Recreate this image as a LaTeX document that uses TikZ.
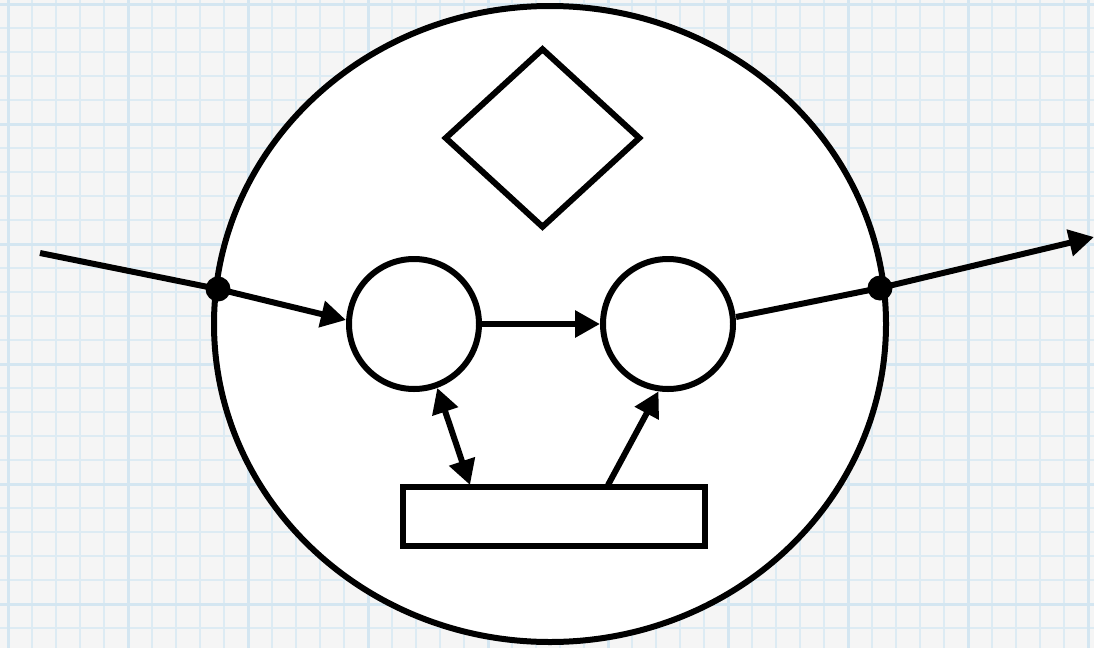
\documentclass[tikz,border=0pt]{standalone}
\usetikzlibrary{arrows.meta,shapes.geometric}
\definecolor{paper}{HTML}{F5F5F5}
\definecolor{gridminor}{HTML}{DDEBF3}
\definecolor{gridmajor}{HTML}{D4E6F1}
\begin{document}
\begin{tikzpicture}[x=1pt,y=-1pt,
  ln/.style={line width=6pt},
  tip/.style={-{Triangle[length=25pt,width=26pt]}},
  blob/.style={circle,fill=black,inner sep=0pt,minimum size=25pt},
  proc/.style={circle,draw,ln,fill=white,minimum size=130pt,inner sep=0pt},
]
\useasboundingbox (0,0) rectangle (1094,648);
\fill[paper] (0,0) rectangle (1094,648);
\foreach \i in {0,...,45} {
  \pgfmathsetmacro{\xx}{8+24*\i}
  \draw[gridminor,line width=1.5pt] (\xx,0) -- (\xx,648);
}
\foreach \i in {0,...,27} {
  \pgfmathsetmacro{\yy}{4+24*\i}
  \draw[gridminor,line width=1.5pt] (0,\yy) -- (1094,\yy);
}
\foreach \i in {0,...,9} {
  \pgfmathsetmacro{\xx}{8+120*\i}
  \draw[gridmajor,line width=3pt] (\xx,0) -- (\xx,648);
}
\foreach \i in {0,...,5} {
  \pgfmathsetmacro{\yy}{4+120*\i}
  \draw[gridmajor,line width=3pt] (0,\yy) -- (1094,\yy);
}
% main ellipse
\node[ellipse,draw,ln,fill=white,minimum width=672pt,minimum height=636pt,inner sep=0pt] (sys) at (550,324) {};
% diamond
\node[diamond,draw,ln,minimum width=196pt,minimum height=180pt,inner sep=0pt,aspect=1.1] (dec) at (542.5,138) {};
% circles
\node[proc] (p1) at (414,324) {};
\node[proc] (p2) at (668,324) {};
% rectangle
\node[draw,ln,fill=white,minimum width=302pt,minimum height=59pt,inner sep=0pt] (store) at (554,516.5) {};
% ports
\coordinate (in) at (40,253);
\coordinate (pin) at (218,289);
\coordinate (pout) at (880,288);
\coordinate (out) at (1094,237);
\coordinate (s1) at (470,485);
\coordinate (s2) at (608,485);
\draw[ln] (in) -- (pin);
\draw[ln,tip] (pin) -- (p1.west |- 0,320) ;
\draw[ln,tip] (p1.east) -- (p2.west);
\draw[ln] (p2.east |- 0,317) -- (pout);
\draw[ln,tip] (pout) -- (out);
\draw[ln,{Triangle[length=25pt,width=26pt]}-{Triangle[length=25pt,width=26pt]}] (p1.290) -- (s1);
\draw[ln,tip] (s2) -- (p2.262);
\node[blob] (dotin) at (pin) {};
\node[blob] (dotout) at (pout) {};
\end{tikzpicture}
\end{document}
